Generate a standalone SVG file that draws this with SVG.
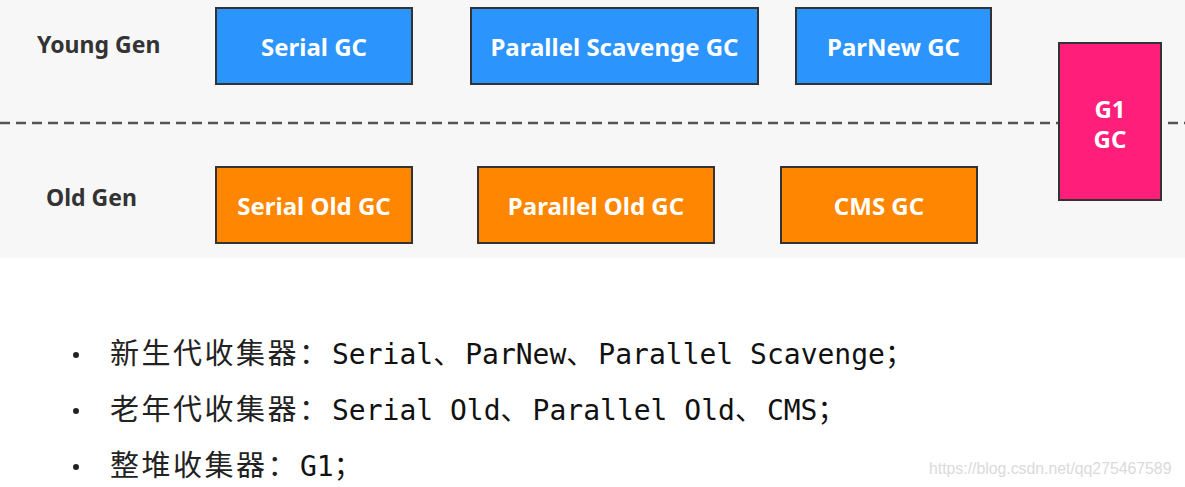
<svg xmlns="http://www.w3.org/2000/svg" width="1185" height="487" viewBox="0 0 1185 487">
<style>
.box{stroke:#333;stroke-width:2}
.blue{fill:#2b94fd}
.orange{fill:#ff8600}
.pink{fill:#ff1f7b}
.bt{font-family:"Noto Sans","Open Sans",sans-serif;font-weight:bold;font-size:24px;fill:#fff;text-anchor:middle}
.gen{font-family:"Noto Sans","Open Sans",sans-serif;font-weight:bold;font-size:23px;fill:#333}
.li{font-family:"DejaVu Sans Mono","Noto Sans CJK SC",monospace;font-size:28px;fill:#111}
.p{letter-spacing:4px}
.cn{font-family:"Noto Sans CJK SC",sans-serif;font-size:29px;fill:#222}
</style>
<rect x="0" y="0" width="1185" height="258" fill="#f7f7f7"/>
<rect x="0" y="258" width="1185" height="229" fill="#fff"/>
<g id="labels">
<text class="gen" x="37" y="53">Young Gen</text>
<text class="gen" x="46" y="206">Old Gen</text>
</g>
<g id="divider">
<line x1="0" y1="123" x2="1185" y2="123" stroke="#555" stroke-width="2.5" stroke-dasharray="10,6"/>
</g>
<g id="serial-gc"><rect class="box blue" x="216" y="8" width="196" height="76"/><text class="bt" x="314" y="56">Serial GC</text></g>
<g id="parallel-scavenge-gc"><rect class="box blue" x="471" y="8" width="287" height="76"/><text class="bt" x="614.5" y="56">Parallel Scavenge GC</text></g>
<g id="parnew-gc"><rect class="box blue" x="796" y="8" width="195" height="76"/><text class="bt" x="893.5" y="56">ParNew GC</text></g>
<g id="g1-gc"><rect class="box pink" x="1059" y="43" width="102" height="157"/><text class="bt" x="1110" y="118">G1</text><text class="bt" x="1110" y="148">GC</text></g>
<g id="serial-old-gc"><rect class="box orange" x="216" y="167" width="196" height="76"/><text class="bt" x="314" y="215">Serial Old GC</text></g>
<g id="parallel-old-gc"><rect class="box orange" x="478" y="167" width="236" height="76"/><text class="bt" x="596" y="215">Parallel Old GC</text></g>
<g id="cms-gc"><rect class="box orange" x="781" y="167" width="196" height="76"/><text class="bt" x="879" y="215">CMS GC</text></g>
<g id="bullets">
<circle cx="76" cy="355" r="3" fill="#222"/>
<circle cx="76" cy="411" r="3" fill="#222"/>
<circle cx="76" cy="467" r="3" fill="#222"/>
<text class="cn" x="110" y="364" letter-spacing="2.5">新生代收集器：</text>
<text class="li" x="332" y="364">Serial<tspan class="p">、</tspan>ParNew<tspan class="p">、</tspan>Parallel Scavenge；</text>
<text class="cn" x="110" y="420" letter-spacing="2.5">老年代收集器：</text>
<text class="li" x="332" y="420">Serial Old<tspan class="p">、</tspan>Parallel Old<tspan class="p">、</tspan>CMS；</text>
<text class="cn" x="110" y="476" letter-spacing="2.5">整堆收集器：</text>
<text class="li" x="300" y="476">G1；</text>
</g>
<text x="929" y="474" font-family="Liberation Sans, sans-serif" font-size="15.8" fill="#dadada">https://blog.csdn.net/qq275467589</text>
</svg>
